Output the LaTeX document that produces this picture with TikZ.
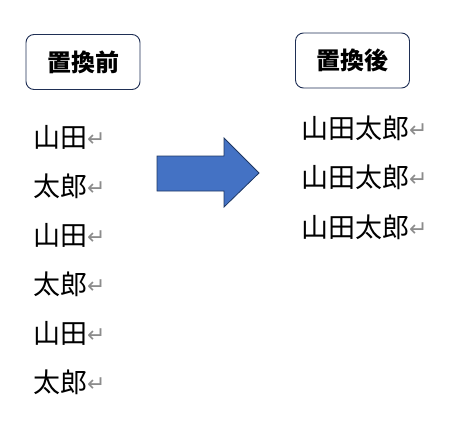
\documentclass[tikz,border=0pt]{standalone}
\usepackage{fontspec}
\setmainfont{Liberation Serif}
\newfontfamily\jp{Noto Sans CJK JP}
\newfontfamily\symf{DejaVu Sans}
\definecolor{boxline}{HTML}{1F2F55}
\definecolor{arrowfill}{HTML}{4472C4}
\definecolor{arrowline}{HTML}{1F3864}
\definecolor{retgray}{HTML}{8C8C8C}
\newcommand{\retmark}{{\symf\fontsize{22}{22}\selectfont\color{retgray}\raisebox{1pt}{↵}}}
\tikzset{
  labelbox/.style={draw=boxline, line width=0.9pt, rounded corners=8pt, fill=white,
    minimum width=114pt, minimum height=55pt, inner sep=0pt,
    font=\jp\bfseries\fontsize{24}{24}\selectfont},
  textline/.style={anchor=west, inner sep=0pt, font=\jp\fontsize{27}{27}\selectfont},
  blockarrow/.style={fill=arrowfill, draw=arrowline, line width=0.8pt, line join=miter}
}
\begin{document}
\begin{tikzpicture}[x=1pt,y=-1pt]
\useasboundingbox (0,0) rectangle (449,426);
\node[labelbox] (before) at (83,62) {置換前};
\node[labelbox] (after) at (352.5,60.5) {置換後};
\draw[blockarrow] (157,156) -- (224,156) -- (224,138) -- (259,173) -- (224,207) -- (224,191) -- (157,191) -- cycle;
\node[textline] (l1) at (33,137) {山田\retmark};
\node[textline] (l2) at (33,186) {太郎\retmark};
\node[textline] (l3) at (33,235) {山田\retmark};
\node[textline] (l4) at (33,284) {太郎\retmark};
\node[textline] (l5) at (33,333) {山田\retmark};
\node[textline] (l6) at (33,382) {太郎\retmark};
\node[textline] (r1) at (301,128) {山田太郎\retmark};
\node[textline] (r2) at (301,177.5) {山田太郎\retmark};
\node[textline] (r3) at (301,227) {山田太郎\retmark};
\end{tikzpicture}
\end{document}
